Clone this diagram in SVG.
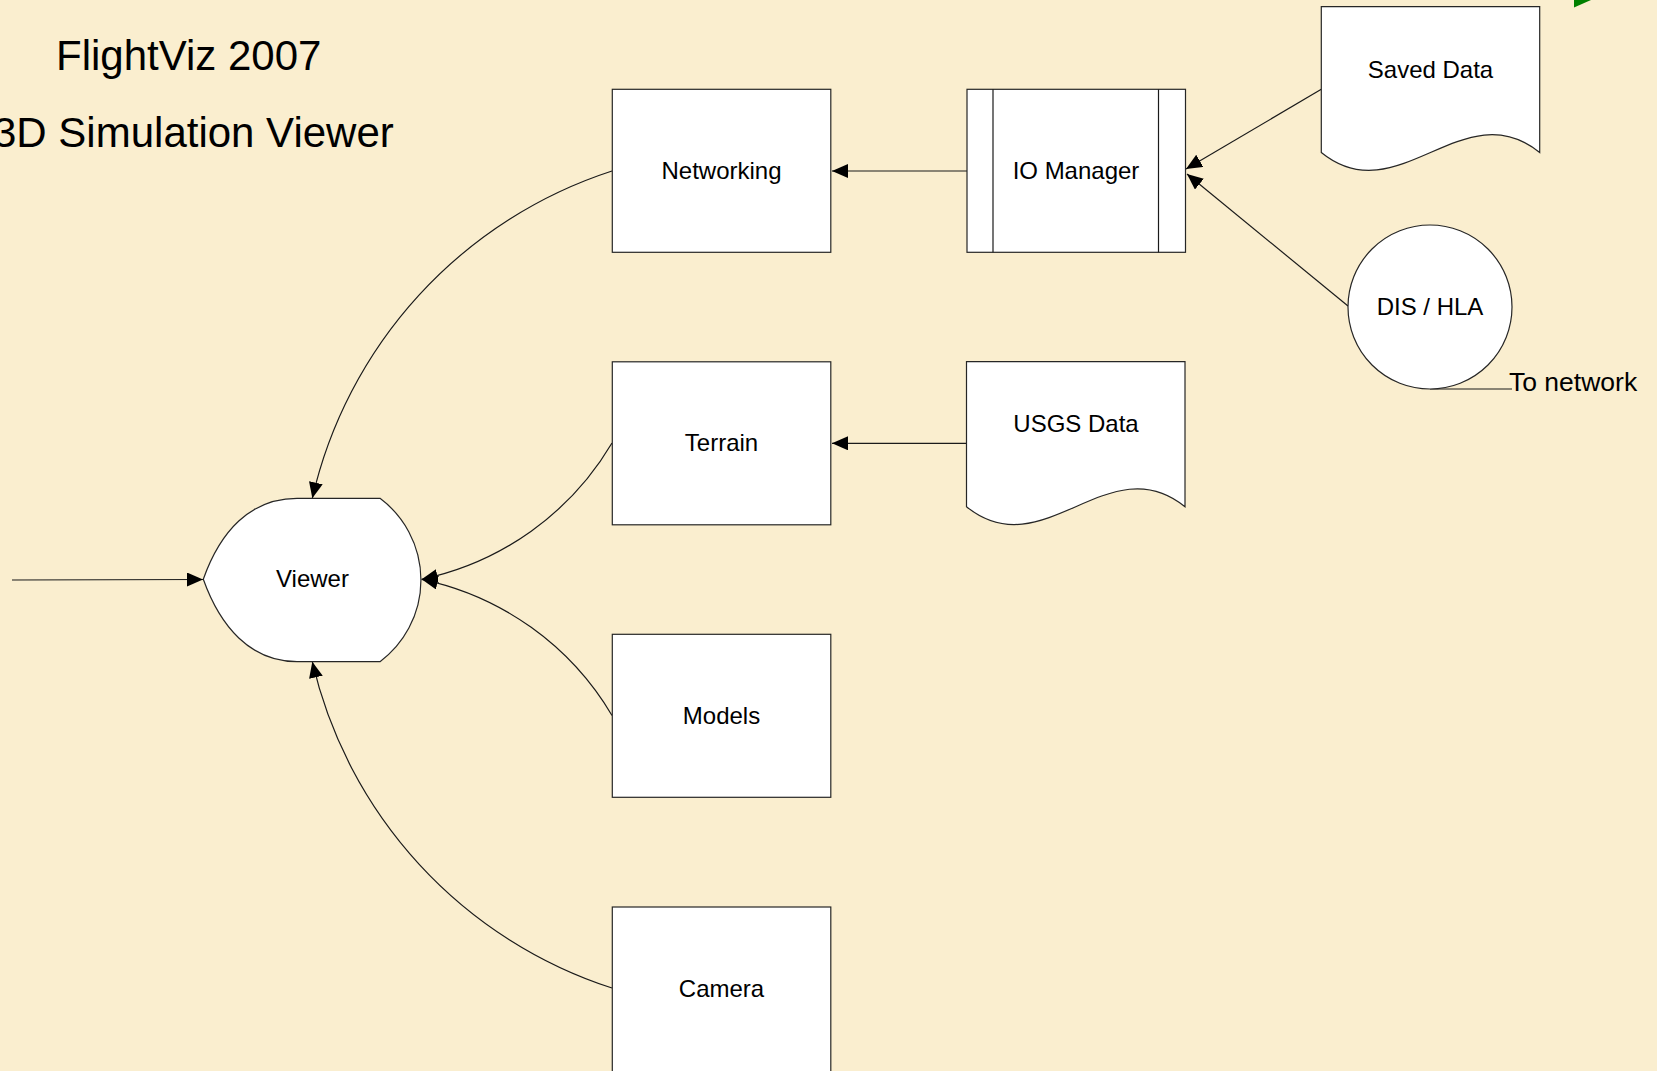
<svg xmlns="http://www.w3.org/2000/svg" width="1657" height="1071" viewBox="0 0 1657 1071">
<style>
.shape{fill:#ffffff;stroke:#262626;stroke-width:1.2}
.line{fill:none;stroke:#1a1a1a;stroke-width:1.2}
.lbl{font-family:"Liberation Sans",Arial,sans-serif;font-size:24px;fill:#000;text-anchor:middle}
.title{font-family:"Liberation Sans",Arial,sans-serif;font-size:42px;fill:#000}
</style>
<defs>
<marker id="arr" markerUnits="userSpaceOnUse" markerWidth="18" markerHeight="16" refX="16" refY="7" orient="auto">
<path d="M0,0 L16,7 L0,14 z" fill="#000"/>
</marker>
</defs>
<rect x="0" y="0" width="1657" height="1071" fill="#FAEECF"/>
<polygon points="1574,0 1591,0 1574,7.5" fill="#008000"/>
<text class="title" x="56" y="70">FlightViz 2007</text>
<text class="title" x="-7" y="147">3D Simulation Viewer</text>

<g id="connectors">
<path class="line" d="M 967,171 L 832,171" marker-end="url(#arr)"/>
<path class="line" d="M 1321.3,89.3 L 1186,169" marker-end="url(#arr)"/>
<path class="line" d="M 1348,306 L 1187,174" marker-end="url(#arr)"/>
<path class="line" d="M 967,443.3 L 832,443.3" marker-end="url(#arr)"/>
<path class="line" d="M 612,171 A 450 450 0 0 0 312.3,498.3" marker-end="url(#arr)"/>
<path class="line" d="M 612,443 A 290 290 0 0 1 421.7,579.3" marker-end="url(#arr)"/>
<path class="line" d="M 612,715.5 A 290 290 0 0 0 421.7,579.3" marker-end="url(#arr)"/>
<path class="line" d="M 612,988 A 450 450 0 0 1 312.3,661.7" marker-end="url(#arr)"/>
<path class="line" d="M 12,580 L 203,579.5" marker-end="url(#arr)"/>
<path class="line" d="M 1430,389 L 1512,389"/>
</g>

<g id="networking">
<rect class="shape" x="612.3" y="89.3" width="218.5" height="163"/>
<text class="lbl" x="721.5" y="178.5">Networking</text>
</g>
<g id="io-manager">
<rect class="shape" x="967" y="89.3" width="218.5" height="163"/>
<line class="line" x1="993" y1="89.3" x2="993" y2="252.3"/>
<line class="line" x1="1158.5" y1="89.3" x2="1158.5" y2="252.3"/>
<text class="lbl" x="1076" y="178.5">IO Manager</text>
</g>
<g id="saved-data">
<path class="shape" d="M 1321.3,6.7 L 1539.7,6.7 L 1539.7,152.5 C 1463.4,90.5 1397.6,214.5 1321.3,152.5 Z"/>
<text class="lbl" x="1430.5" y="78">Saved Data</text>
</g>
<g id="dis-hla">
<circle class="shape" cx="1430" cy="307" r="82"/>
<text class="lbl" x="1430" y="315">DIS / HLA</text>
<text class="lbl" x="1509" y="390.5" style="text-anchor:start;font-size:26.5px">To network</text>
</g>
<g id="terrain">
<rect class="shape" x="612.3" y="361.8" width="218.5" height="163"/>
<text class="lbl" x="721.5" y="451">Terrain</text>
</g>
<g id="usgs-data">
<path class="shape" d="M 966.5,361.7 L 1185,361.7 L 1185,506.7 C 1108.7,444.7 1042.8,568.7 966.5,506.7 Z"/>
<text class="lbl" x="1076" y="432">USGS Data</text>
</g>
<g id="models">
<rect class="shape" x="612.3" y="634.3" width="218.5" height="163"/>
<text class="lbl" x="721.5" y="723.5">Models</text>
</g>
<g id="camera">
<rect class="shape" x="612.3" y="907" width="218.5" height="170"/>
<text class="lbl" x="721.5" y="996.5">Camera</text>
</g>
<g id="viewer">
<path class="shape" d="M 203.3,579.3 C 220,532 250,498.3 297,498.3 L 380,498.3 A 102 102 0 0 1 380,661.7 L 297,661.7 C 250,661.7 220,626 203.3,579.3 Z"/>
<text class="lbl" x="312.5" y="587">Viewer</text>
</g>
</svg>
